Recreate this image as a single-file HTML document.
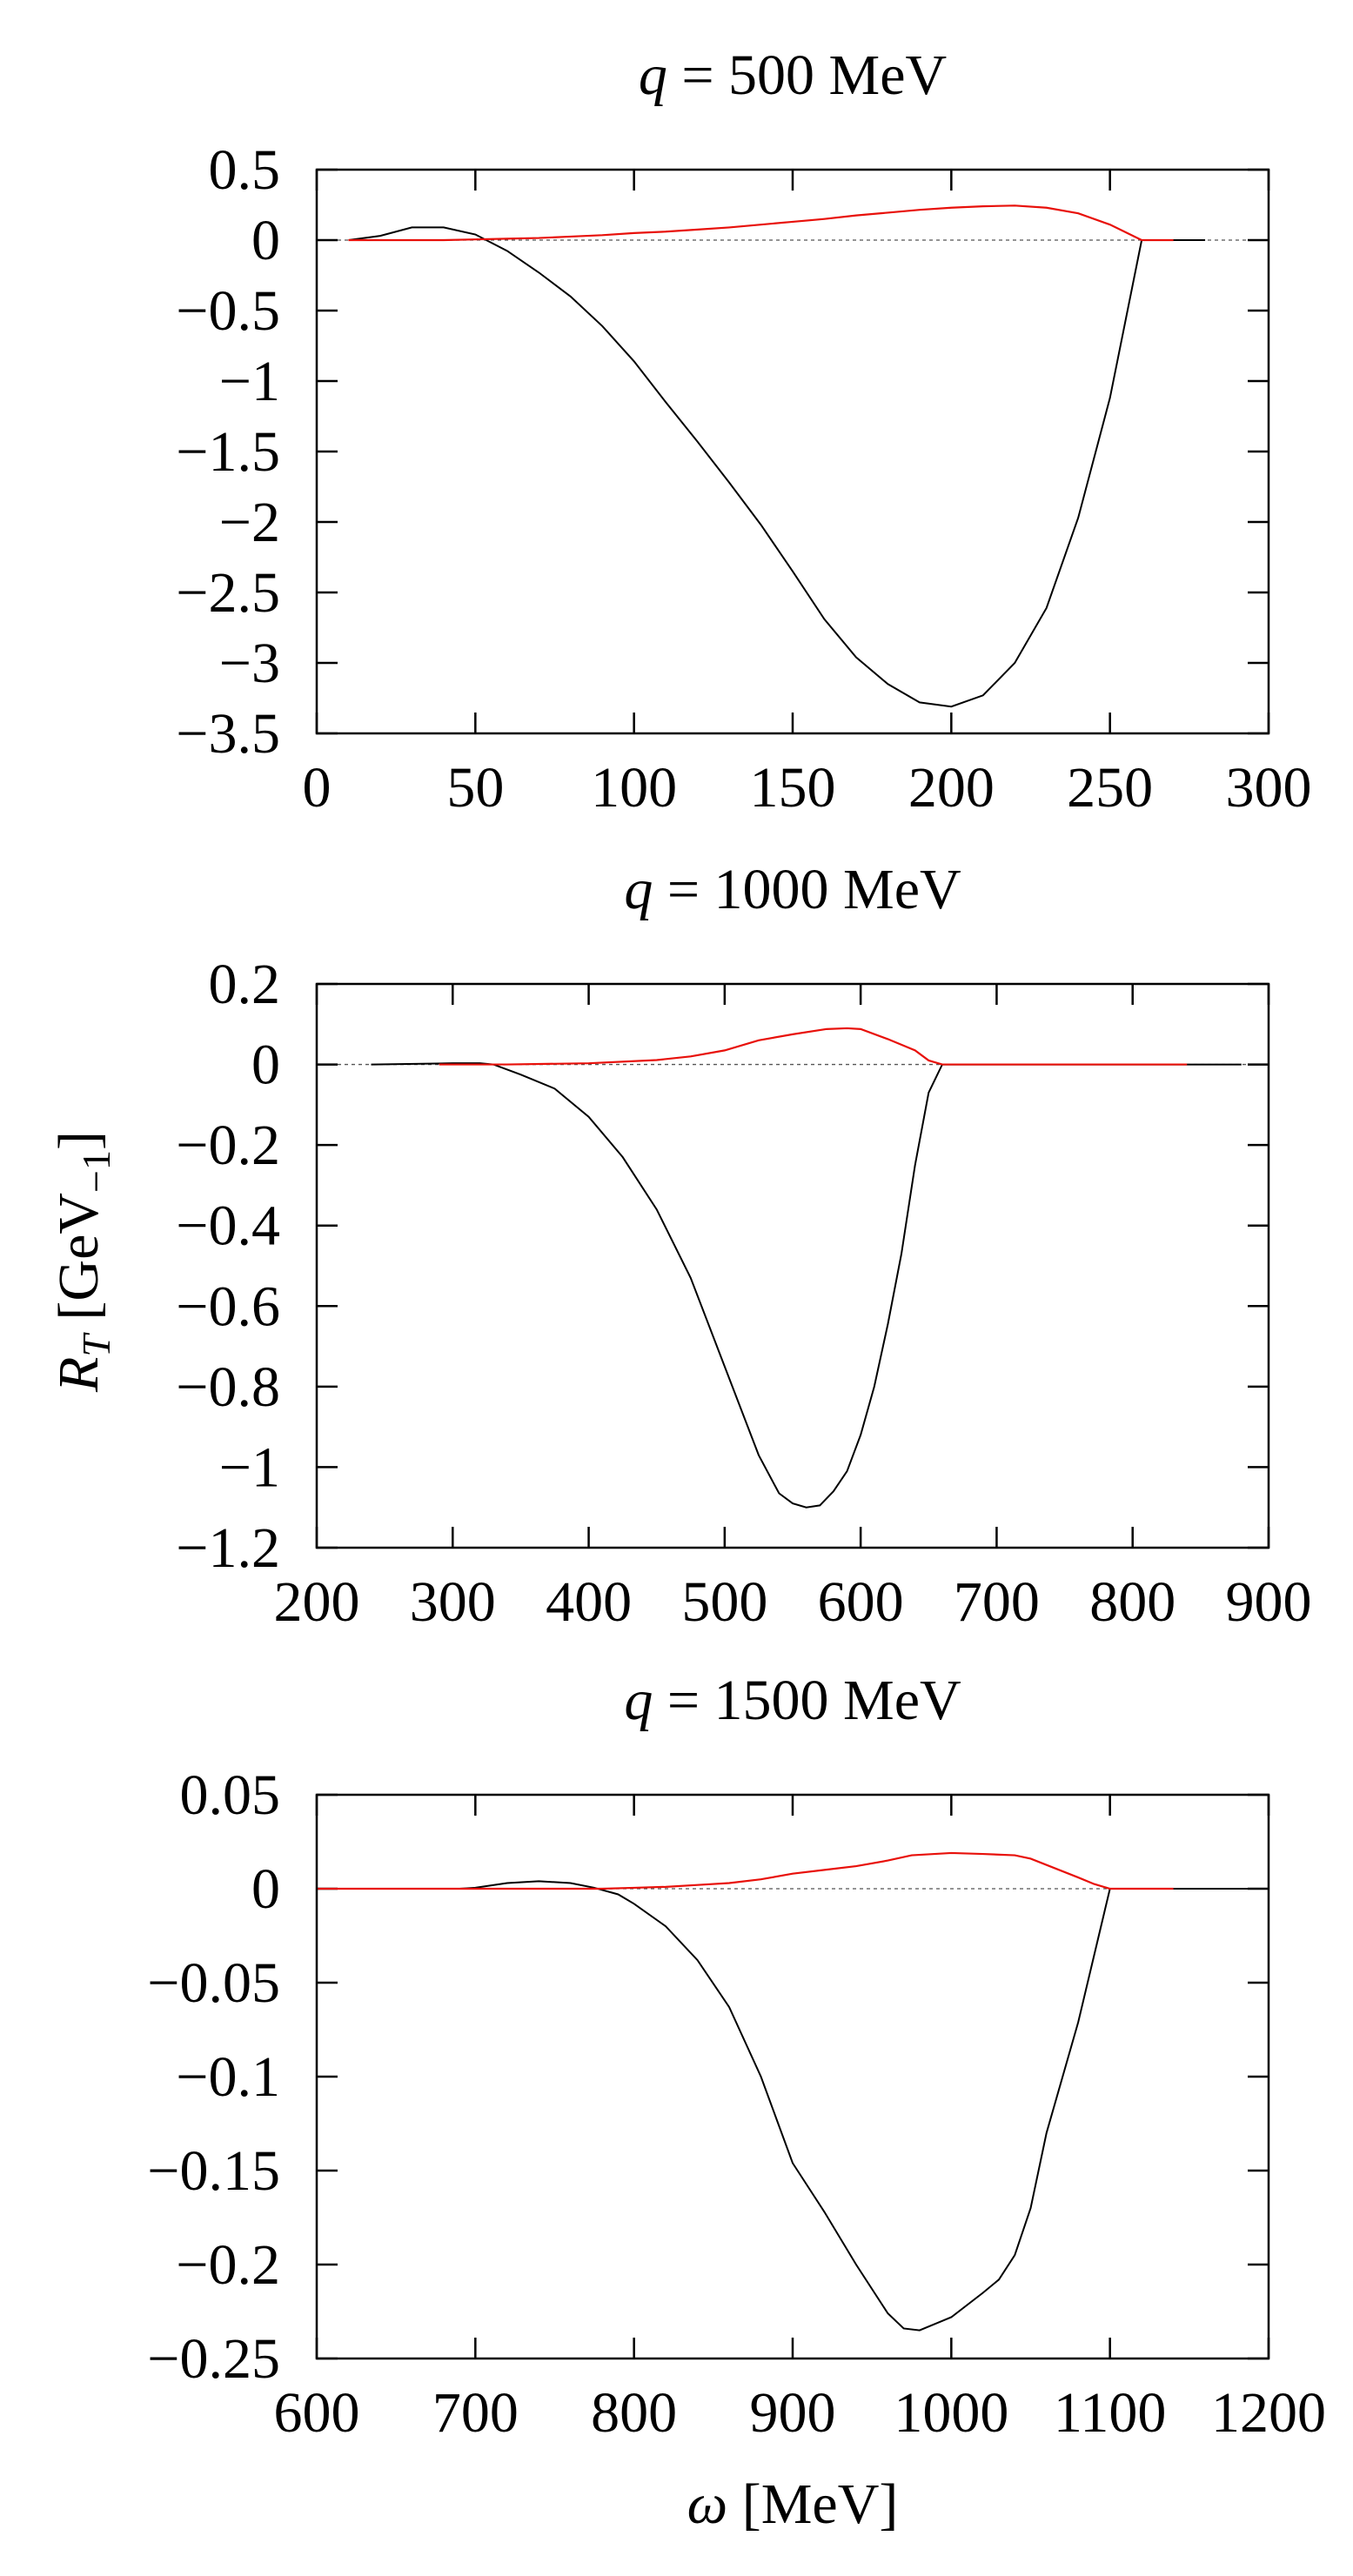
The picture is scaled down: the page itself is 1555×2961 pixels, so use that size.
<!DOCTYPE html>
<html><head><meta charset="utf-8"><style>
html,body{margin:0;padding:0;background:#fff;}
svg{display:block;font-family:"Liberation Serif","DejaVu Serif",serif;}
</style></head><body>
<svg id="chart" width="1555" height="2961" viewBox="0 0 1555 2961" xmlns="http://www.w3.org/2000/svg">
<text transform="translate(112,1450) rotate(-90)" text-anchor="middle" font-size="66"><tspan font-style="italic">R</tspan><tspan font-style="italic" font-size="46" dy="14">T</tspan><tspan dy="-14"> [GeV</tspan><tspan font-size="46" dy="14">−1</tspan><tspan dy="-14">]</tspan></text>
<text x="911" y="2900" text-anchor="middle" font-size="66"><tspan font-style="italic">ω</tspan> [MeV]</text>
</svg>
<script>
// Panel 1: q = 500 MeV
const p1X = [10,20,30,40,50,60,70,80,90,100,110,120,130,140,150,160,170,180,190,200,210,220,230,240,250,260,270,280];
const p1Black = [0,0.03,0.09,0.09,0.04,-0.076,-0.23,-0.40,-0.61,-0.86,-1.15,-1.43,-1.72,-2.02,-2.35,-2.69,-2.96,-3.15,-3.28,-3.31,-3.23,-3.0,-2.61,-1.97,-1.12,0,0,0];
const p1RedX = [10,20,30,40,50,60,70,80,90,100,110,120,130,140,150,160,170,180,190,200,210,220,230,240,250,260,270];
const p1Red = [0,0,0,0,0.005,0.01,0.015,0.025,0.035,0.05,0.06,0.075,0.09,0.11,0.13,0.15,0.175,0.195,0.215,0.23,0.24,0.245,0.23,0.19,0.11,0,0];
const p1XTicks = [0,50,100,150,200,250,300];
const p1YTicks = [0.5,0,-0.5,-1,-1.5,-2,-2.5,-3,-3.5];
// Panel 2: q = 1000 MeV
const p2X = [240,300,320,330,350,375,400,425,450,475,500,525,540,550,560,570,580,590,600,610,620,630,640,650,660,700,800,880];
const p2Black = [0,0.003,0.003,0,-0.025,-0.06,-0.13,-0.23,-0.36,-0.53,-0.75,-0.97,-1.065,-1.09,-1.1,-1.095,-1.06,-1.01,-0.92,-0.8,-0.645,-0.47,-0.25,-0.07,0,0,0,0];
const p2RedX = [290,340,400,450,475,500,525,550,575,590,600,620,640,650,660,700,800,840];
const p2Red = [0,0,0.003,0.011,0.02,0.035,0.06,0.075,0.088,0.09,0.088,0.063,0.035,0.01,0,0,0,0];
const p2XTicks = [200,300,400,500,600,700,800,900];
const p2YTicks = [0.2,0,-0.2,-0.4,-0.6,-0.8,-1,-1.2];
// Panel 3: q = 1500 MeV
const p3X = [690,700,720,740,760,775,790,800,820,840,860,880,900,920,940,960,970,980,1000,1020,1030,1040,1050,1060,1080,1100,1150,1200];
const p3Black = [0,0.0005,0.003,0.004,0.003,0.0005,-0.003,-0.008,-0.02,-0.038,-0.063,-0.1,-0.146,-0.172,-0.2,-0.226,-0.234,-0.235,-0.228,-0.215,-0.208,-0.195,-0.17,-0.13,-0.071,0,0,0];
const p3RedX = [600,700,780,800,820,840,860,880,900,920,940,960,975,1000,1020,1040,1050,1080,1090,1100,1140];
const p3Red = [0,0,0,0.0005,0.001,0.002,0.003,0.005,0.008,0.010,0.012,0.015,0.0178,0.019,0.0185,0.0178,0.016,0.006,0.0025,0,0];
const p3XTicks = [600,700,800,900,1000,1100,1200];
const p3YTicks = [0.05,0,-0.05,-0.1,-0.15,-0.2,-0.25];

const NS = "http://www.w3.org/2000/svg";
const svg = document.getElementById('chart');
function mk(tag, attrs, parent){
  const e = document.createElementNS(NS, tag);
  for (const k in attrs) e.setAttribute(k, attrs[k]);
  (parent||svg).appendChild(e);
  return e;
}
function fmt(v){ return v < 0 ? '−' + String(-v) : String(v); }

const panels = [
  {title:'500', top:195, bottom:843, xmin:0, xmax:300, ymin:-3.5, ymax:0.5, xs:p1X, bk:p1Black, rx:p1RedX, rd:p1Red, xt:p1XTicks, yt:p1YTicks},
  {title:'1000', top:1131, bottom:1779, xmin:200, xmax:900, ymin:-1.2, ymax:0.2, xs:p2X, bk:p2Black, rx:p2RedX, rd:p2Red, xt:p2XTicks, yt:p2YTicks},
  {title:'1500', top:2063, bottom:2711, xmin:600, xmax:1200, ymin:-0.25, ymax:0.05, xs:p3X, bk:p3Black, rx:p3RedX, rd:p3Red, xt:p3XTicks, yt:p3YTicks}
];
const L = 364, R = 1458;

panels.forEach((p, i) => {
  const g = mk('g', {});
  
  
  const sx = v => L + (v - p.xmin) / (p.xmax - p.xmin) * (R - L);
  const sy = v => p.bottom - (v - p.ymin) / (p.ymax - p.ymin) * (p.bottom - p.top);

  const t = mk('text', {x:911, y:p.top - 87, 'text-anchor':'middle', 'font-size':66}, g);
  
  
  t.innerHTML = '<tspan font-style="italic">q</tspan> = ' + p.title + ' MeV';

  const z = mk('line', {x1:L, x2:R, y1:sy(0), y2:sy(0), stroke:'#555', 'stroke-width':1.3, 'stroke-dasharray':'4,4'}, g);
  
  

  p.xt.forEach(v => {
    const x = sx(v);
    const a = mk('path', {d:`M${x},${p.bottom}v-24M${x},${p.top}v24`, stroke:'#000', 'stroke-width':2.5, fill:'none'}, g);
    
    
    const lb = mk('text', {x:x, y:p.bottom + 84, 'text-anchor':'middle', 'font-size':66}, g);
    
    
    lb.textContent = fmt(v);
  });
  p.yt.forEach(v => {
    const y = sy(v);
    const a = mk('path', {d:`M${L},${y}h24M${R},${y}h-24`, stroke:'#000', 'stroke-width':2.5, fill:'none'}, g);
    
    
    const lb = mk('text', {x:322, y:y + 22, 'text-anchor':'end', 'font-size':66}, g);
    
    
    lb.textContent = fmt(v);
  });

  const bl = mk('polyline', {points:p.xs.map((x,k)=>sx(x)+','+sy(p.bk[k])).join(' '), fill:'none', stroke:'#000', 'stroke-width':2}, g);
  
  
  const rl = mk('polyline', {points:p.rx.map((x,k)=>sx(x)+','+sy(p.rd[k])).join(' '), fill:'none', stroke:'#e8100a', 'stroke-width':2.2}, g);
  
  

  const fr = mk('rect', {x:L, y:p.top, width:R-L, height:p.bottom-p.top, fill:'none', stroke:'#000', 'stroke-width':2.5}, g);
  
  
});
</script>
</body></html>
